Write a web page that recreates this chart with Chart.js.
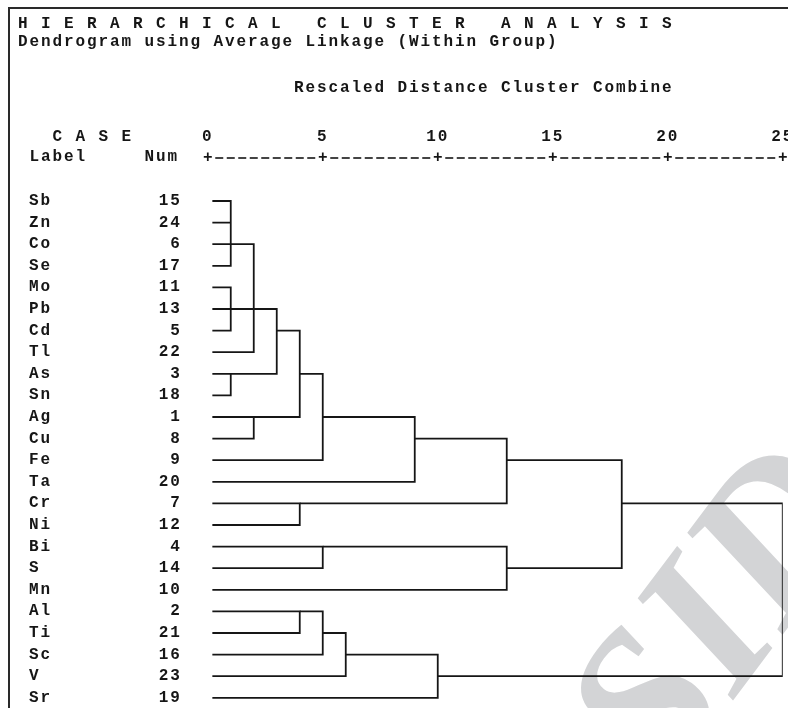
<!DOCTYPE html>
<html>
<head>
<meta charset="utf-8">
<title>Hierarchical Cluster Analysis</title>
<script src="https://cdn.jsdelivr.net/npm/chart.js@4.4.0/dist/chart.umd.min.js"></script>
<style>
  html, body { margin: 0; padding: 0; background: #fff; }
  canvas { display: block; }
</style>
</head>
<body>
<canvas id="dendro" width="788" height="708"></canvas>
<script>
// cases in dendrogram order (top to bottom)
const caseLabels = ['Sb', 'Zn', 'Co', 'Se', 'Mo', 'Pb', 'Cd', 'Tl', 'As', 'Sn', 'Ag', 'Cu',
                    'Fe', 'Ta', 'Cr', 'Ni', 'Bi', 'S', 'Mn', 'Al', 'Ti', 'Sc', 'V', 'Sr'];
const caseNums = [15, 24, 6, 17, 11, 13, 5, 22, 3, 18, 1, 8, 9, 20, 7, 12, 4, 14, 10, 2, 21, 16, 23, 19];
const distTicks = [0, 5, 10, 15, 20, 25];

// joining steps as SPSS draws them: rescaled distance, what gets joined, row the new line leaves from
// item = case row number, or 'cN' = the cluster made at step N
const stepDist = [1, 1, 2, 1, 3, 2, 4, 5, 9, 4, 13, 5, 13, 18, 4, 5, 6, 10, 25];
const stepItems = [
    [0, 1, 2, 3], [4, 5, 6], ['c0', 7], [8, 9], ['c2', 'c1', 'c3'], [10, 11], ['c4', 'c5'],
    ['c6', 12], ['c7', 13], [14, 15], ['c8', 'c9'], [16, 17], ['c11', 18], ['c10', 'c12'],
    [19, 20], ['c14', 21], ['c15', 22], ['c16', 23], ['c13', 'c17']
];
const stepRow = [2, 5, 5, 8, 6, 10, 8, 10, 11, 14, 12, 16, 17, 14, 19, 20, 21, 22, null];
const leafStart = 0.2;

const ink = '#161616';
const cellW = 11.5;      // width of one character cell of the SPSS text output
const textLeft = 18;
const mono = { family: '"Liberation Mono", "DejaVu Sans Mono", monospace', size: 16, weight: 'bold', lineHeight: 1.125 };
const monoCss = 'bold 16px ' + mono.family;

function buildLines() {
    let lines = [];
    stepDist.forEach((d, s) => {
        let ends = stepItems[s].map(it => {
            if (typeof it === 'number') return { x: leafStart, y: it };
            let k = +it.slice(1);
            return { x: stepDist[k], y: stepRow[k] };
        });
        ends.sort((a, b) => a.y - b.y);
        let first = ends[0], last = ends[ends.length - 1];
        lines.push([{ x: first.x, y: first.y }, { x: d, y: first.y }, { x: d, y: last.y }, { x: last.x, y: last.y }]);
        ends.slice(1, -1).forEach(e => lines.push([{ x: e.x, y: e.y }, { x: d, y: e.y }]));
    });
    return lines;
}

function rowTicks(axis) {
    axis.ticks = caseLabels.map((_, i) => ({ value: i }));
}

// keep tick labels from shrinking the plot area
function noPad(axis) {
    axis.paddingLeft = axis.paddingRight = axis.paddingTop = axis.paddingBottom = 0;
}

const spssText = {
    id: 'spssText',
    beforeDraw(chart) {
        const ctx = chart.ctx;
        ctx.font = monoCss;
        ctx.letterSpacing = '0px';
        const adv = ctx.measureText('M').width;
        // frame of the output window
        ctx.save();
        ctx.strokeStyle = '#2a2a2a';
        ctx.lineWidth = 2;
        ctx.beginPath();
        ctx.moveTo(9, 708);
        ctx.lineTo(9, 8);
        ctx.lineTo(788, 8);
        ctx.stroke();
        ctx.restore();
        ctx.letterSpacing = (cellW - adv) + 'px';
    },
    beforeDatasetsDraw(chart) {
        const ctx = chart.ctx;
        const xs = chart.scales.x;
        // watermark of the source
        ctx.save();
        ctx.letterSpacing = '0px';
        ctx.fillStyle = '#d3d4d6';
        ctx.font = 'italic bold 210px "Liberation Serif"';
        ctx.translate(664, 792);
        ctx.rotate(-53 * Math.PI / 180);
        const pre = ctx.measureText('of ').width;
        ctx.fillText('of SID', -pre, 0);
        ctx.restore();

        ctx.save();
        ctx.fillStyle = ink;
        ctx.font = monoCss;
        ctx.textBaseline = 'middle';
        ctx.textAlign = 'left';
        ctx.fillText('C A S E', textLeft + 3 * cellW, 137);
        ctx.fillText('Label', textLeft + cellW, 157);
        ctx.fillText('Num', textLeft + 11 * cellW, 157);
        // the +---------+ ruler under the distance numbers
        ctx.letterSpacing = '0px';
        ctx.textAlign = 'center';
        ctx.strokeStyle = ink;
        ctx.lineWidth = 1.6;
        for (let v = 0; v <= 25; v += 0.5) {
            const px = xs.getPixelForValue(v);
            if (v % 5 === 0) {
                ctx.fillText('+', px, 158);
            } else {
                ctx.beginPath();
                ctx.moveTo(px - 4, 158);
                ctx.lineTo(px + 4, 158);
                ctx.stroke();
            }
        }
        ctx.restore();
    }
};

const ctx = document.getElementById('dendro').getContext('2d');
new Chart(ctx, {
    type: 'scatter',
    data: {
        datasets: buildLines().map(pts => ({
            data: pts,
            yAxisID: 'yNum',
            showLine: true,
            borderColor: ink,
            borderWidth: 1.8,
            borderJoinStyle: 'miter',
            pointRadius: 0,
            pointHoverRadius: 0,
            tension: 0
        }))
    },
    options: {
        responsive: false,
        animation: false,
        events: [],
        layout: { padding: { left: 18, right: 5.25, top: 0, bottom: 3.7 } },
        plugins: {
            legend: { display: false },
            tooltip: { enabled: false },
            title: {
                display: true,
                align: 'start',
                text: 'H I E R A R C H I C A L   C L U S T E R   A N A L Y S I S',
                color: ink,
                font: mono,
                padding: { top: 15, bottom: 0 }
            },
            subtitle: {
                display: true,
                align: 'start',
                text: 'Dendrogram using Average Linkage (Within Group)',
                color: ink,
                font: mono,
                padding: { top: 0, bottom: 0 }
            }
        },
        scales: {
            x: {
                type: 'linear',
                position: 'top',
                min: 0,
                max: 25,
                afterBuildTicks: axis => { axis.ticks = distTicks.map(v => ({ value: v })); },
                afterFit: axis => { axis.height = 139.2; noPad(axis); },
                ticks: { autoSkip: false, maxRotation: 0, padding: 44.2, color: ink, font: mono },
                grid: { display: false, drawTicks: false },
                border: { display: false },
                title: {
                    display: true,
                    text: 'Rescaled Distance Cluster Combine  ',
                    color: ink,
                    font: mono,
                    padding: { top: 28, bottom: 0 }
                }
            },
            yNum: {
                type: 'linear',
                position: 'left',
                reverse: true,
                min: -0.5,
                max: 23.3,
                weight: 1,
                afterBuildTicks: rowTicks,
                afterFit: axis => { axis.width = 189.75; noPad(axis); },
                ticks: { autoSkip: false, padding: 26, color: ink, font: mono, callback: v => caseNums[v] },
                grid: { display: false, drawTicks: false },
                border: { display: false }
            },
            yLabel: {
                type: 'linear',
                position: 'left',
                reverse: true,
                min: -0.5,
                max: 23.3,
                weight: 2,
                afterBuildTicks: rowTicks,
                afterFit: axis => { axis.width = 0; noPad(axis); },
                ticks: { autoSkip: false, mirror: true, padding: 11, color: ink, font: mono, callback: v => caseLabels[v] },
                grid: { display: false, drawTicks: false },
                border: { display: false }
            }
        }
    },
    plugins: [spssText]
});
</script>
</body>
</html>
